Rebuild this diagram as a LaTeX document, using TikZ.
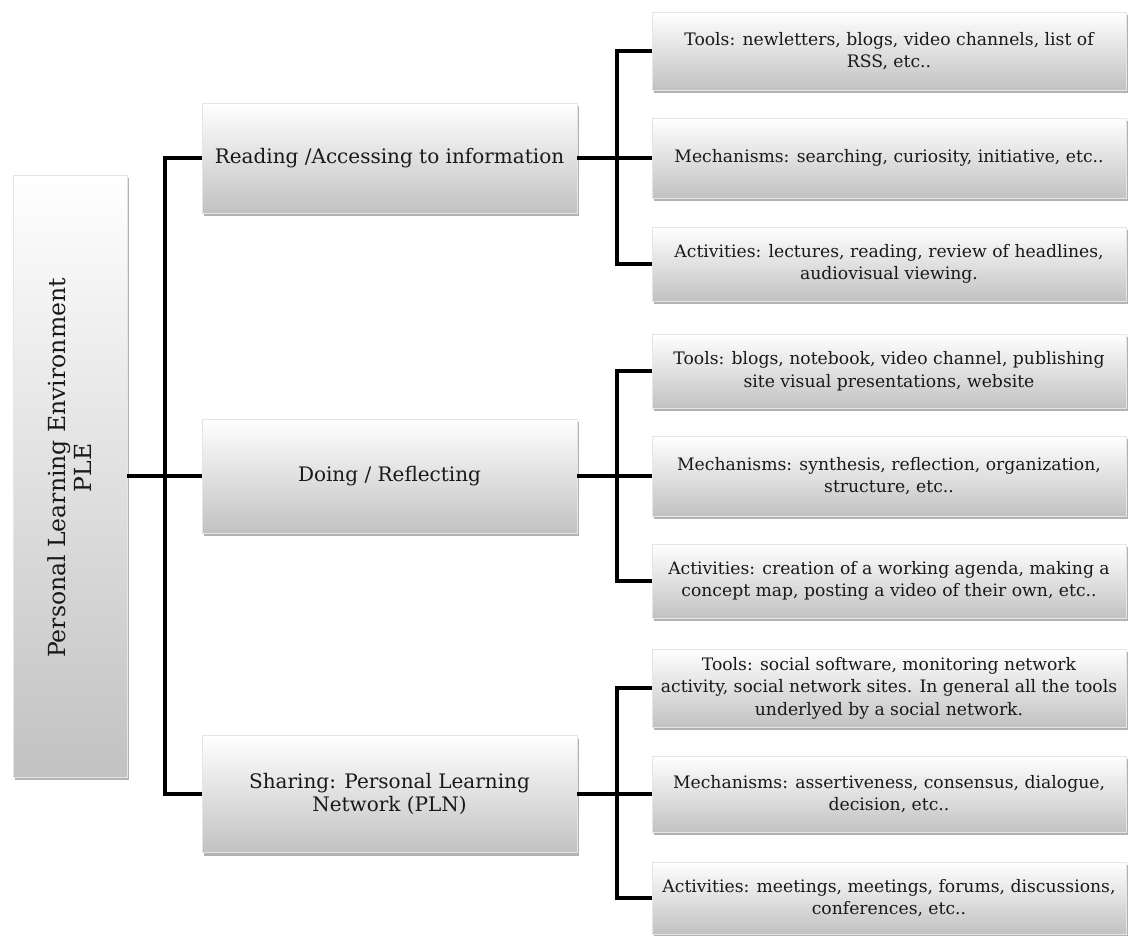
\documentclass[tikz,border=0pt]{standalone}
\usepackage{fontspec}
\setmainfont{DejaVu Serif}
\usetikzlibrary{shadows}
\tikzset{
  box/.style={rectangle, inner sep=2pt, align=center, text=black!90,
    top color=white, bottom color=black!24, draw=black!10, line width=0.6pt,
    drop shadow={shadow xshift=1.5pt, shadow yshift=-3pt, opacity=0.5, fill=black!60}},
  rootbox/.style={box, minimum width=114pt, minimum height=602pt},
  midbox/.style={box, minimum width=375pt, font=\fontsize{20}{23}\selectfont},
  leafbox/.style={box, minimum width=474pt, font=\fontsize{17.2}{22.5}\selectfont},
  conn/.style={line width=3.6pt, black}
}
\begin{document}
\begin{tikzpicture}[x=1pt,y=-1pt]
\useasboundingbox (0,0) rectangle (1129,935);
\fill[white] (0,0) rectangle (1129,935);
% root
\node[rootbox] (root) at (70,476) {};
\node[rotate=90, align=center, text=black!90, font=\fontsize{23.5}{26}\selectfont] (roottext) at (70,468) {Personal Learning Environment\\PLE};
% middle
\node[midbox, minimum height=110pt] (r1) at (389.5,158) {Reading /Accessing to information};
\node[midbox, minimum height=114pt] (r2) at (389.5,476) {Doing / Reflecting};
\node[midbox, minimum height=117pt] (r3) at (389.5,794) {Sharing: Personal Learning\\Network (PLN)};
% leaves group 1
\node[leafbox, minimum height=78pt] (t1) at (889,51) {Tools: newletters, blogs, video channels, list of\\RSS, etc..};
\node[leafbox, minimum height=80pt] (m1) at (889,158) {Mechanisms: searching, curiosity, initiative, etc..};
\node[leafbox, minimum height=74pt] (a1) at (889,264) {Activities: lectures, reading, review of headlines,\\audiovisual viewing.};
% leaves group 2
\node[leafbox, minimum height=74pt] (t2) at (889,371) {Tools: blogs, notebook, video channel, publishing\\site visual presentations, website};
\node[leafbox, minimum height=80pt] (m2) at (889,476) {Mechanisms: synthesis, reflection, organization,\\structure, etc..};
\node[leafbox, minimum height=74pt] (a2) at (889,581) {Activities: creation of a working agenda, making a\\concept map, posting a video of their own, etc..};
% leaves group 3
\node[leafbox, minimum height=78pt] (t3) at (889,688) {Tools: social software, monitoring network\\activity, social network sites. In general all the tools\\underlyed by a social network.};
\node[leafbox, minimum height=76pt] (m3) at (889,794) {Mechanisms: assertiveness, consensus, dialogue,\\decision, etc..};
\node[leafbox, minimum height=72pt] (a3) at (889,898) {Activities: meetings, meetings, forums, discussions,\\conferences, etc..};
% connectors
\draw[conn] (root.east) -- (r2.west);
\draw[conn] (r1.west) -- ++(-37,0) |- (r3.west);
\draw[conn] (r1.east) -- (m1.west);
\draw[conn] (t1.west) -- ++(-35,0) |- (a1.west);
\draw[conn] (r2.east) -- (m2.west);
\draw[conn] (t2.west) -- ++(-35,0) |- (a2.west);
\draw[conn] (r3.east) -- (m3.west);
\draw[conn] (t3.west) -- ++(-35,0) |- (a3.west);
\end{tikzpicture}
\end{document}
